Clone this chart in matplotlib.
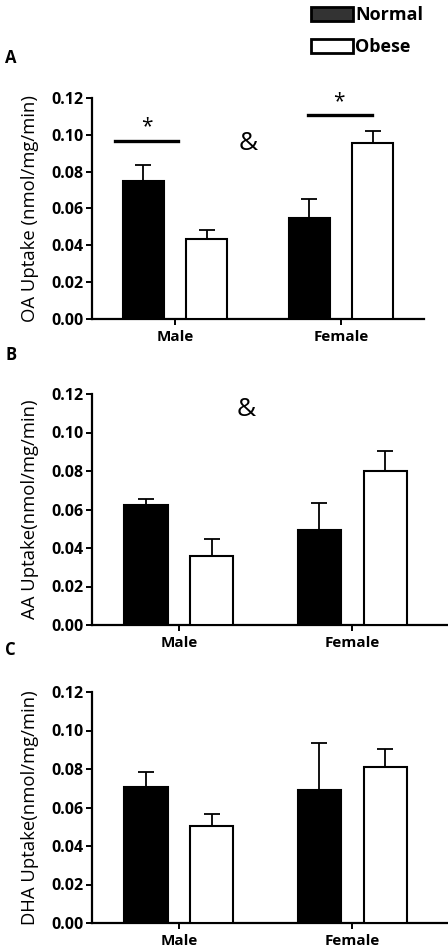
import matplotlib
matplotlib.use("Agg")
import matplotlib.pyplot as plt
from matplotlib.patches import Patch
import numpy as np

plt.rcParams['font.family'] = ['Open Sans', 'DejaVu Sans']

groups = ["Male", "Female"]
series = ["Normal", "Obese"]

# panel A - OA
oa_normal = [0.075, 0.055]
oa_normal_sem = [0.0085, 0.0103]
oa_obese = [0.0433, 0.0954]
oa_obese_sem = [0.005, 0.0068]

# panel B - AA
aa_normal = [0.0624, 0.0494]
aa_normal_sem = [0.0031, 0.0139]
aa_obese = [0.0356, 0.0802]
aa_obese_sem = [0.009, 0.0101]

# panel C - DHA
dha_normal = [0.0705, 0.0693]
dha_normal_sem = [0.0078, 0.024]
dha_obese = [0.0506, 0.0809]
dha_obese_sem = [0.006, 0.0095]

yticks = [0.00, 0.02, 0.04, 0.06, 0.08, 0.10, 0.12]

W, H = 448, 952
fig = plt.figure(figsize=(W / 100, H / 100), dpi=100)


def px_axes(left, right, top, bottom):
    return fig.add_axes([left / W, 1 - bottom / H, (right - left) / W, (bottom - top) / H])


def draw_panel(ax, normal, normal_sem, obese, obese_sem, ylabel, xmax):
    x = np.arange(len(groups))
    off = 0.19
    bw = 0.25
    ax.bar(x - off, normal, bw, color="black", edgecolor="black", linewidth=1.5, zorder=3)
    ax.bar(x + off, obese, bw, color="white", edgecolor="black", linewidth=1.5, zorder=3)
    zeros = np.zeros(len(groups))
    ax.errorbar(x - off, normal, yerr=[zeros, normal_sem], fmt="none", ecolor="black",
                elinewidth=1.3, capsize=6, capthick=1.3, zorder=2)
    ax.errorbar(x + off, obese, yerr=[zeros, obese_sem], fmt="none", ecolor="black",
                elinewidth=1.3, capsize=6, capthick=1.3, zorder=2)
    ax.set_xlim(-0.5, xmax)
    ax.set_ylim(0, 0.12)
    ax.set_yticks(yticks)
    ax.set_yticklabels(["%.2f" % t for t in yticks], fontweight="bold", fontsize=11.5)
    ax.set_xticks(x)
    ax.set_xticklabels(groups, fontweight="bold", fontsize=11)
    ax.set_ylabel(ylabel, fontsize=13.3, labelpad=9)
    for s in ["top", "right"]:
        ax.spines[s].set_visible(False)
    for s in ["left", "bottom"]:
        ax.spines[s].set_linewidth(1.6)
    ax.tick_params(width=1.4, length=4, pad=2)
    ax.tick_params(axis="x", pad=4)


axA = px_axes(92, 424, 98, 319)
draw_panel(axA, oa_normal, oa_normal_sem, oa_obese, oa_obese_sem,
           "OA Uptake (nmol/mg/min)", 1.5)
# significance marks
axA.plot([-0.36, 0.016], [0.0965, 0.0965], color="black", lw=2.4, zorder=4)
axA.text(-0.17, 0.0985, "*", ha="center", va="bottom", fontsize=15)
axA.plot([0.8, 1.185], [0.111, 0.111], color="black", lw=2.4, zorder=4)
axA.text(0.99, 0.1125, "*", ha="center", va="bottom", fontsize=15)
axA.text(0.44, 0.0955, "&", ha="center", va="center", fontsize=19)

axB = px_axes(92, 447, 394, 625)
draw_panel(axB, aa_normal, aa_normal_sem, aa_obese, aa_obese_sem,
           "AA Uptake(nmol/mg/min)", 1.545)
axB.text(0.39, 0.1117, "&", ha="center", va="center", fontsize=19)

axC = px_axes(92, 447, 692, 923)
draw_panel(axC, dha_normal, dha_normal_sem, dha_obese, dha_obese_sem,
           "DHA Uptake(nmol/mg/min)", 1.545)

# panel letters
fig.text(5 / W, 1 - 58 / H, "A", fontweight="bold", fontsize=12, va="center")
fig.text(5 / W, 1 - 355 / H, "B", fontweight="bold", fontsize=12, va="center")
fig.text(5 / W, 1 - 650 / H, "C", fontweight="bold", fontsize=12, va="center")

handles = [Patch(facecolor="#333333", edgecolor="black", linewidth=2.0),
           Patch(facecolor="white", edgecolor="black", linewidth=2.0)]
fig.legend(handles, series, loc="upper left", bbox_to_anchor=(311 / W, 1 - 6 / H),
           frameon=False, prop={"weight": "bold", "size": 13}, handlelength=2.3,
           handleheight=0.85, handletextpad=0.15, borderpad=0.0, borderaxespad=0.0,
           labelspacing=0.8)

fig.savefig("out.png", dpi=100)
